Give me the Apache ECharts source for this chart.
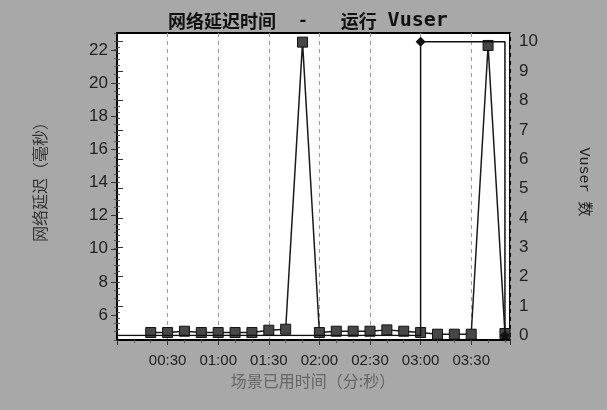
<!DOCTYPE html>
<html>
<head>
<meta charset="utf-8">
<script src="https://cdn.jsdelivr.net/npm/echarts@6/dist/echarts.min.js"></script>
<style>
	html, body { margin: 0; padding: 0; background: #a8a8a8; }
	#main { width: 607px; height: 410px; }
</style>
</head>
<body>
<div id="main"></div>
<script>
// 场景已用时间（秒）
var timeSec = [20, 30, 40, 50, 60, 70, 80, 90, 100, 110, 120, 130, 140, 150, 160, 170, 180, 190, 200, 210, 220, 230];
// 网络延迟（毫秒）
var netDelay = [4.95, 4.95, 5.03, 4.95, 4.95, 4.95, 4.95, 5.09, 5.15, 22.45, 4.95, 5.03, 5.03, 5.03, 5.11, 5.03, 4.95, 4.85, 4.85, 4.85, 22.25, 4.89];
// 运行 Vuser
var vuserTime = [0, 180, 180, 230, 230];
var vuserCount = [0, 0, 10, 10, 0];

var numFont = '"Liberation Sans", Arial, sans-serif';
var cjkFont = '"Noto Sans CJK SC", sans-serif';

function mmss(v){
	var m = Math.floor(v / 60), s = Math.round(v % 60);
	return (m < 10 ? '0' : '') + m + ':' + (s < 10 ? '0' : '') + s;
}

var myChart = echarts.init(document.getElementById('main'), null, {renderer: 'canvas'});
var option = {
	backgroundColor: '#a8a8a8',
	animation: false,
	title: {
		left: 163,
		top: 6,
		text: '{a|网络延迟时间}{m|  -   }{a|运行}{m| }{b|Vuser}',
		textStyle: {
			rich: {
				a: {fontSize: 18, fontWeight: 'bold', fontFamily: cjkFont, color: '#111'},
				m: {fontSize: 18, fontWeight: 'bold', fontFamily: '"Liberation Mono", monospace', color: '#111'},
				b: {fontSize: 20, fontWeight: 'bold', fontFamily: '"DejaVu Sans Mono", monospace', color: '#111'}
			}
		}
	},
	grid: [
		{left: 117, right: 97, top: 33, bottom: 70, show: true, backgroundColor: '#fff', borderColor: '#000', borderWidth: 2},
		{left: 117, right: 97, top: 50.2, bottom: 95},
		{left: 117, right: 97, top: 41.7, bottom: 74.5}
	],
	xAxis: [
		{
			gridIndex: 0, type: 'value', min: 0, max: 233, interval: 30,
			axisLine: {show: true, lineStyle: {color: '#000', width: 2}},
			axisTick: {show: true, length: 5, lineStyle: {color: '#333'}},
			minorTick: {show: true, splitNumber: 3, length: 3, lineStyle: {color: '#555'}},
			axisLabel: {
				showMinLabel: false, showMaxLabel: false, margin: 13,
				fontSize: 15, fontFamily: numFont, color: '#222',
				formatter: function(v){ return mmss(v); }
			},
			splitLine: {show: true, lineStyle: {type: [4, 4], color: '#999', width: 1}}
		},
		{gridIndex: 1, type: 'value', min: 0, max: 233, show: false},
		{gridIndex: 2, type: 'value', min: 0, max: 233, show: false}
	],
	yAxis: [
		{
			gridIndex: 0, type: 'value', min: 4.5, max: 23, interval: 0.5,
			axisLine: {show: true, lineStyle: {color: '#000', width: 2}},
			axisTick: {show: true, length: 3, lineStyle: {color: '#555'}},
			axisLabel: {show: false},
			splitLine: {show: false}
		},
		{
			gridIndex: 1, type: 'value', min: 6, max: 22, interval: 2,
			axisLine: {show: false},
			axisTick: {show: true, length: 6, lineStyle: {color: '#333'}},
			axisLabel: {margin: 9, fontSize: 17, fontFamily: numFont, color: '#222'},
			splitLine: {show: false}
		},
		{
			gridIndex: 2, type: 'value', position: 'right', min: 0, max: 10, interval: 1,
			axisLine: {show: false},
			axisTick: {show: true, length: 6, lineStyle: {color: '#333'}},
			minorTick: {show: true, splitNumber: 5, length: 3, lineStyle: {color: '#555'}},
			axisLabel: {margin: 9, fontSize: 17, fontFamily: numFont, color: '#222'},
			splitLine: {show: false}
		}
	],
	series: [
		{
			name: '网络延迟时间',
			type: 'line',
			xAxisIndex: 0, yAxisIndex: 0,
			data: timeSec.map(function(t, i){ return [t, netDelay[i]]; }),
			symbol: 'rect', symbolSize: 10,
			itemStyle: {color: '#474747', borderColor: '#111', borderWidth: 1},
			lineStyle: {color: '#1a1a1a', width: 1.5},
			z: 3
		},
		{
			name: '运行 Vuser',
			type: 'line',
			xAxisIndex: 2, yAxisIndex: 2,
			data: vuserTime.map(function(t, i){ return [t, vuserCount[i]]; }),
			// 只在跳变点画菱形
			symbol: function(val, params){
				return (params.dataIndex === 2 || params.dataIndex === 4) ? 'diamond' : 'none';
			},
			symbolSize: 10,
			itemStyle: {color: '#111'},
			lineStyle: {color: '#111', width: 1.5},
			z: 4
		}
	],
	graphic: [
		{
			type: 'text', x: 40, y: 178, rotation: Math.PI / 2,
			style: {text: '网络延迟（毫秒）', font: '16px ' + cjkFont, fill: '#333', align: 'center', verticalAlign: 'middle'}
		},
		{
			type: 'text', x: 584, y: 182, rotation: -Math.PI / 2,
			style: {text: 'Vuser 数', font: '15px "Liberation Mono", "Noto Sans CJK SC", monospace', fill: '#222', align: 'center', verticalAlign: 'middle'}
		},
		{
			type: 'text', x: 313, y: 381,
			style: {text: '场景已用时间（分:秒）', font: '16px ' + cjkFont, fill: '#666', align: 'center', verticalAlign: 'middle'}
		}
	]
};
myChart.setOption(option);
</script>
</body>
</html>
